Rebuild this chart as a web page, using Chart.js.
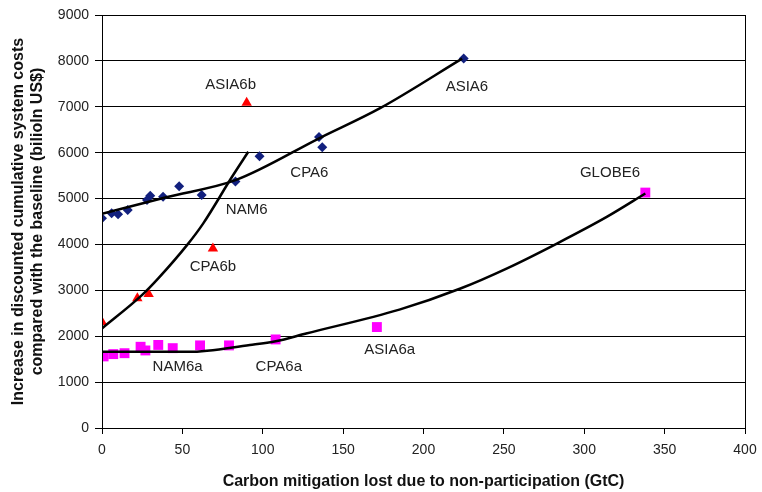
<!DOCTYPE html>
<html>
<head>
<meta charset="utf-8">
<script src="https://cdn.jsdelivr.net/npm/chart.js@4.4.1/dist/chart.umd.min.js"></script>
<style>
  html, body { margin: 0; padding: 0; background: #fff; }
  #wrap { width: 762px; height: 492px; }
</style>
</head>
<body>
<div id="wrap"><canvas id="chart" width="762" height="492"></canvas></div>
<script>
// scenario points [carbon lost GtC, cost billion US$]
const diamondPts = [
  [0, 4570], [6, 4680], [10, 4660], [16, 4750], [28, 4970], [30, 5060],
  [38, 5040], [48, 5270], [62, 5080], [83, 5370], [98, 5920],
  [135, 6340], [137, 6120], [225, 8050]
];
const trianglePts = [[0, 2310], [22, 2830], [29, 2920], [69, 3910], [90, 7090]];
const squarePts = [
  [1, 1560], [7, 1610], [14, 1630], [24, 1770], [27, 1690], [35, 1810],
  [44, 1740], [61, 1800], [79, 1800], [108, 1930], [171, 2200], [338, 5130]
];

// fitted curves
const curveCPA = [[0, 4670], [40, 5030], [83, 5400], [136, 6330], [173, 6970], [224, 8050]];
const curveNAM = [[0, 2170], [25, 2900], [35, 3260], [53, 3990], [63, 4460], [81, 5480], [91, 6020]];
const curveGLOBE = [
  [0, 1660], [54, 1660], [92, 1810], [108, 1890], [127, 2060], [185, 2580],
  [223, 3040], [252, 3480], [283, 4020], [314, 4600], [338, 5110]
];

const pointLabels = [
  ['ASIA6b', 80, 7480], ['ASIA6', 227, 7430], ['CPA6', 129, 5560],
  ['NAM6', 90, 4750], ['CPA6b', 69, 3510], ['GLOBE6', 316, 5560],
  ['ASIA6a', 179, 1700], ['NAM6a', 47, 1330], ['CPA6a', 110, 1330]
];

const toXY = arr => arr.map(p => ({ x: p[0], y: p[1] }));

const labelPlugin = {
  id: 'labels',
  afterDatasetsDraw(chart) {
    const ctx = chart.ctx;
    const xs = chart.scales.x, ys = chart.scales.y;
    ctx.save();
    ctx.font = '15px "Liberation Sans", Arial, sans-serif';
    ctx.fillStyle = '#222';
    ctx.textAlign = 'center';
    ctx.textBaseline = 'middle';
    pointLabels.forEach(l => {
      ctx.fillText(l[0], xs.getPixelForValue(l[1]), ys.getPixelForValue(l[2]));
    });
    // frame round the plot
    const a = chart.chartArea;
    ctx.strokeStyle = '#000';
    ctx.lineWidth = 1;
    ctx.strokeRect(a.left + 0.5, a.top + 0.5, a.right - a.left, a.bottom - a.top);
    ctx.restore();
  }
};

const lineStyle = {
  showLine: true, pointRadius: 0, borderColor: '#000', borderWidth: 2.5,
  cubicInterpolationMode: 'monotone', fill: false, order: 0
};

const tickFont = { size: 14, family: '"Liberation Sans", Arial' };
const titleFont = { size: 16, weight: 'bold', family: '"Liberation Sans", Arial', lineHeight: 1.2 };

new Chart(document.getElementById('chart'), {
  type: 'scatter',
  data: {
    datasets: [
      Object.assign({ data: toXY(curveCPA) }, lineStyle),
      Object.assign({ data: toXY(curveNAM) }, lineStyle),
      Object.assign({ data: toXY(curveGLOBE) }, lineStyle),
      {
        data: toXY(diamondPts), pointStyle: 'rectRot', pointRadius: 5,
        backgroundColor: '#12207e', borderColor: '#12207e', borderWidth: 0, order: 1
      },
      {
        data: toXY(trianglePts), pointStyle: 'triangle', pointRadius: 6,
        backgroundColor: '#ff0000', borderColor: '#ff0000', borderWidth: 0, order: 1
      },
      {
        data: toXY(squarePts), pointStyle: 'rect', pointRadius: 7,
        backgroundColor: '#ff00ff', borderColor: '#ff00ff', borderWidth: 0, order: 1
      }
    ]
  },
  options: {
    responsive: false,
    animation: false,
    layout: { padding: { top: 15, right: 17, left: 0, bottom: 0 } },
    plugins: { legend: { display: false }, tooltip: { enabled: false } },
    scales: {
      x: {
        type: 'linear', min: 0, max: 400,
        ticks: { stepSize: 50, color: '#222', font: tickFont, padding: 8 },
        grid: { drawOnChartArea: false, color: '#000', tickLength: 6 },
        border: { color: '#000' },
        title: {
          display: true, text: 'Carbon mitigation lost due to non-participation (GtC)',
          color: '#111', font: titleFont, padding: { top: 14, bottom: 1 }
        },
        afterFit(s) { s.height = 64; s.paddingRight = 0; }
      },
      y: {
        min: 0, max: 9000,
        ticks: { stepSize: 1000, color: '#222', font: tickFont, padding: 6, callback: v => String(v) },
        grid: { color: '#000', tickLength: 7 },
        border: { color: '#000' },
        title: {
          display: true,
          text: ['Increase in discounted cumulative system costs', 'compared with the baseline (bilioln US$)'],
          color: '#111', font: titleFont, padding: { top: 9, bottom: 2 }
        },
        afterFit(s) { s.width = 102; }
      }
    }
  },
  plugins: [labelPlugin]
});
</script>
</body>
</html>
